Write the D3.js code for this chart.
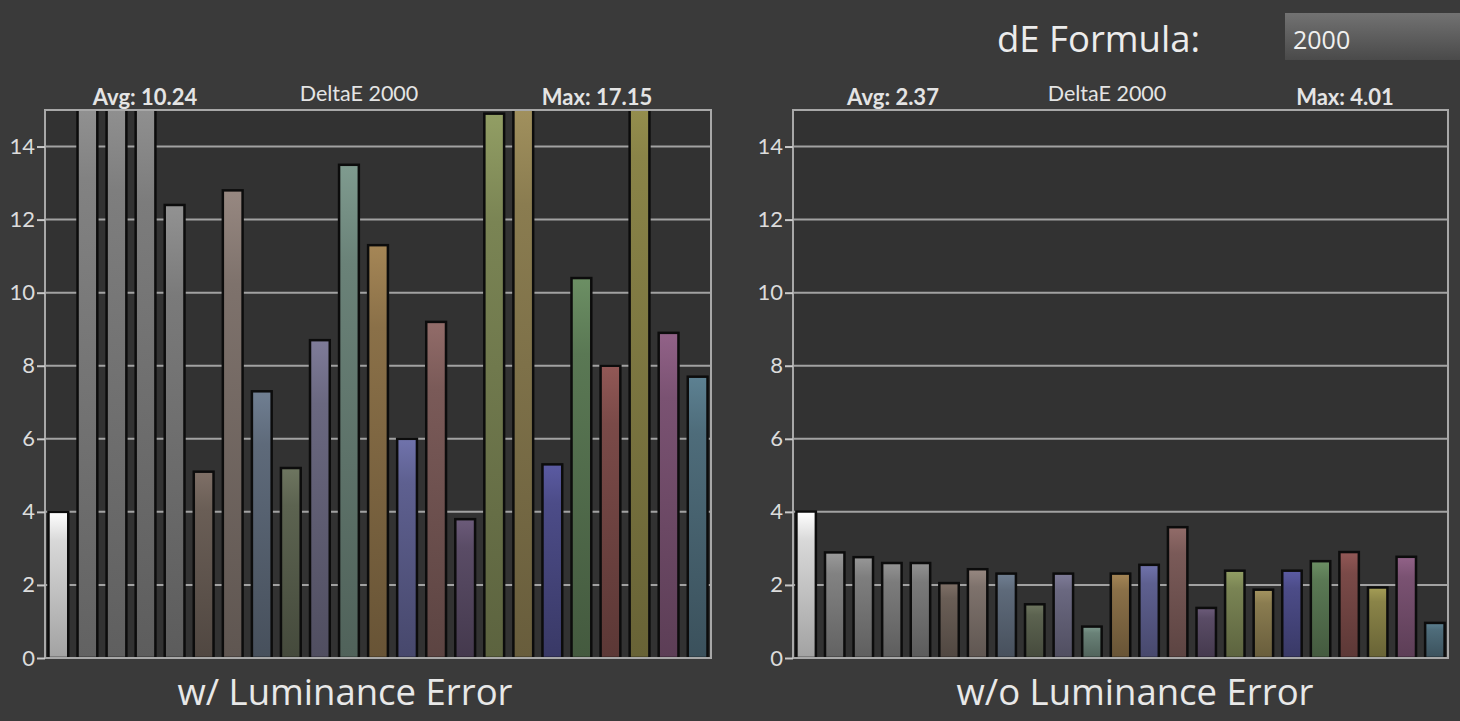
<!DOCTYPE html>
<html lang="en">
<style>
body { margin: 0; background: #3a3a3a; }
svg { display: block; }
.axis .tick text { fill: #dcdcdc; font-family: Lato, sans-serif; font-size: 22px; }
.axis .tick line { stroke: #c8c8c8; stroke-width: 2px; }
.grid line { stroke: #a2a2a2; stroke-width: 2px; }
.head { fill: #e4e4e4; font-family: Lato, sans-serif; font-size: 22px; text-anchor: middle; }
.title { fill: #e8e8e8; font-family: "Open Sans", sans-serif; font-size: 36.5px; text-anchor: middle; }
</style>
<body>
<svg width="1460" height="721"></svg>
<script src="https://d3js.org/d3.v7.min.js"></script>
<script>
var patches = ["1","2","3","4","5","6","7","8","9","10","11","12",
               "13","14","15","16","17","18","19","20","21","22","23"];
var withLum = [4.0, 16.4, 16.0, 15.6, 12.4, 5.1, 12.8, 7.3, 5.2, 8.7, 13.5, 11.3,
               6.0, 9.2, 3.8, 14.9, 15.5, 5.3, 10.4, 8.0, 17.15, 8.9, 7.7];
var withoutLum = [4.01, 2.89, 2.76, 2.6, 2.6, 2.05, 2.43, 2.31, 1.47, 2.31, 0.86, 2.31,
                  2.55, 3.58, 1.37, 2.39, 1.87, 2.39, 2.65, 2.9, 1.93, 2.77, 0.96];
var barColors = ["#d8d8d8", "#828282", "#7e7e7e", "#7c7c7c", "#7a7a7a", "#6a5e56",
                 "#7e726c", "#5e6a7a", "#5c6350", "#6a6880", "#6a8278", "#8a7048",
                 "#5e6090", "#7a5a58", "#5a4c66", "#7a8454", "#8a7c50", "#4c4c88",
                 "#5a7854", "#7a4a48", "#8a8448", "#7a5272", "#4e6c7a"];
var yTicks = [0, 2, 4, 6, 8, 10, 12, 14];
var leftHead = ["Avg: 10.24", "DeltaE 2000", "Max: 17.15"];
var rightHead = ["Avg: 2.37", "DeltaE 2000", "Max: 4.01"];

var svg = d3.select("svg");
var defs = svg.append("defs");

// one vertical gradient per patch colour, lighter at the top
barColors.forEach(function(c, i) {
    var g = defs.append("linearGradient").attr("id", "bg" + i)
        .attr("x1", 0).attr("y1", 0).attr("x2", 0).attr("y2", 1);
    g.append("stop").attr("offset", "0%").attr("stop-color", d3.color(c).brighter(0.5));
    g.append("stop").attr("offset", "20%").attr("stop-color", c);
    g.append("stop").attr("offset", "100%").attr("stop-color", d3.color(c).darker(0.8));
});

var plotTop = 110, plotBottom = 658;

function panel(id, values, x0, x1, heads, title, titleX) {
    var y = d3.scaleLinear().domain([0, 15]).range([plotBottom, plotTop]);
    var x = d3.scaleBand().domain(patches).range([x0, x1])
        .paddingInner(0.32).paddingOuter(0.12);

    svg.append("rect")
        .attr("x", x0).attr("y", plotTop)
        .attr("width", x1 - x0).attr("height", plotBottom - plotTop)
        .attr("fill", "#323232");

    svg.append("g").attr("class", "grid")
        .selectAll("line")
        .data(yTicks)
        .enter().append("line")
            .attr("x1", x0).attr("x2", x1)
            .attr("y1", function(d) { return y(d); })
            .attr("y2", function(d) { return y(d); });

    defs.append("clipPath").attr("id", "clip" + id)
        .append("rect")
        .attr("x", x0).attr("y", plotTop)
        .attr("width", x1 - x0).attr("height", plotBottom - plotTop);

    svg.append("g").attr("clip-path", "url(#clip" + id + ")")
        .selectAll("rect")
        .data(values)
        .enter().append("rect")
            .attr("x", function(d, i) { return x(patches[i]); })
            .attr("y", function(d) { return y(d); })
            .attr("width", x.bandwidth())
            .attr("height", function(d) { return plotBottom - y(d); })
            .attr("fill", function(d, i) { return "url(#bg" + i + ")"; })
            .attr("stroke", "#0c0c0c")
            .attr("stroke-width", 2.5);

    svg.append("rect")
        .attr("x", x0).attr("y", plotTop)
        .attr("width", x1 - x0).attr("height", plotBottom - plotTop)
        .attr("fill", "none")
        .attr("stroke", "#a8a8a8")
        .attr("stroke-width", 2);

    var ax = svg.append("g").attr("class", "axis")
        .attr("transform", "translate(" + x0 + ",0)")
        .call(d3.axisLeft(y).tickValues(yTicks).tickSize(8).tickPadding(2));
    ax.select(".domain").remove();

    var hx = [x0 + 100, x0 + 314, x0 + 552];
    var hy = [105, 101, 105];
    svg.selectAll(".head" + id)
        .data(heads)
        .enter().append("text")
            .attr("class", "head")
            .attr("x", function(d, i) { return hx[i]; })
            .attr("y", function(d, i) { return hy[i]; })
            .style("font-weight", function(d, i) { return i == 1 ? 400 : 700; })
            .style("font-size", function(d, i) { return i == 1 ? "21.5px" : null; })
            .text(function(d) { return d; });

    svg.append("text").attr("class", "title")
        .attr("x", titleX).attr("y", 705)
        .text(title);
}

panel("L", withLum, 45, 711, leftHead, "w/ Luminance Error", 345);
panel("R", withoutLum, 793, 1448, rightHead, "w/o Luminance Error", 1135);

// formula selector in the top right
var sel = defs.append("linearGradient").attr("id", "selbg")
    .attr("x1", 0).attr("y1", 0).attr("x2", 0).attr("y2", 1);
sel.append("stop").attr("offset", "0%").attr("stop-color", "#727272");
sel.append("stop").attr("offset", "100%").attr("stop-color", "#4a4a4a");

svg.append("rect")
    .attr("x", 1285).attr("y", 13)
    .attr("width", 190).attr("height", 47)
    .attr("fill", "url(#selbg)");
svg.append("text")
    .attr("x", 1293).attr("y", 49)
    .style("font-family", "'Open Sans', sans-serif")
    .style("font-size", "25px")
    .style("fill", "#f0f0f0")
    .text("2000");
svg.append("text")
    .attr("x", 997).attr("y", 52)
    .style("font-family", "'Open Sans', sans-serif")
    .style("font-size", "36.5px")
    .style("fill", "#ececec")
    .text("dE Formula:");
</script>
</body>
</html>
